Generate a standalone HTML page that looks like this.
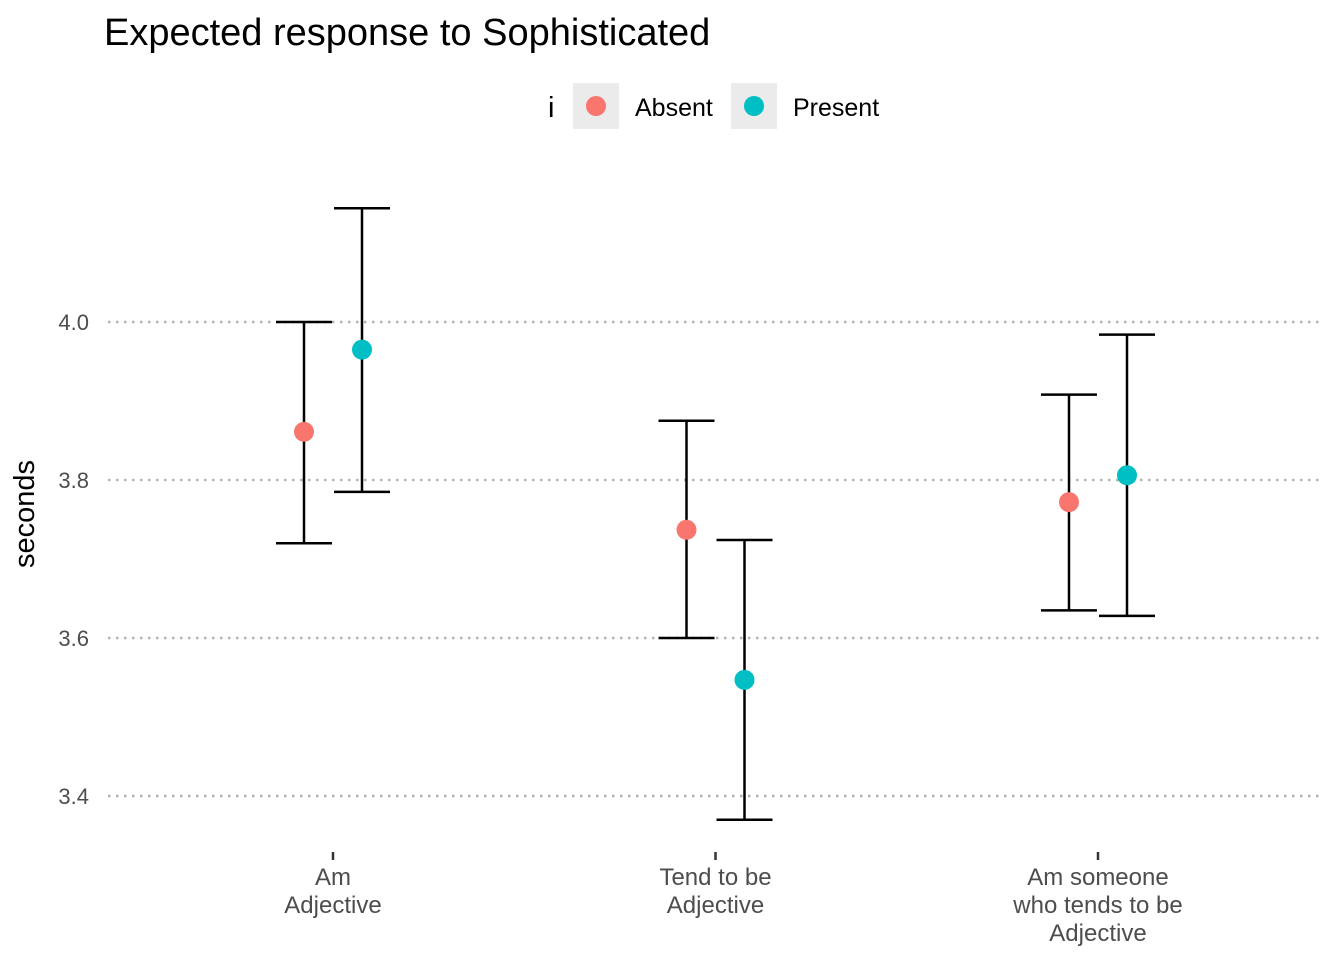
<!DOCTYPE html>
<html><head><meta charset="utf-8"><style>
body{margin:0;background:#fff;}
svg{display:block;font-family:"Liberation Sans",Arial,sans-serif;}
</style></head><body>
<svg id="chart" width="1344" height="960">
<text x="104" y="45" font-size="38" fill="#000">Expected response to Sophisticated</text>
<g>
<text x="548" y="117" font-size="29">i</text>
<rect x="573" y="83" width="46" height="46" fill="#ebebeb"/>
<circle cx="596" cy="106" r="10" fill="#F8766D"/>
<text x="635" y="116" font-size="25">Absent</text>
<rect x="731" y="83" width="46" height="46" fill="#ebebeb"/>
<circle cx="754" cy="106" r="10" fill="#00BFC4"/>
<text x="793" y="116" font-size="25">Present</text>
</g>
<text transform="translate(34,514) rotate(-90)" text-anchor="middle" font-size="29">seconds</text>
<g id="plot"></g>
</svg>
<script>
const categories=[["Am","Adjective"],["Tend to be","Adjective"],["Am someone","who tends to be","Adjective"]];
const absentMean=[3.861,3.737,3.772];
const absentLow=[3.720,3.600,3.635];
const absentHigh=[4.000,3.875,3.908];
const presentMean=[3.965,3.547,3.806];
const presentLow=[3.785,3.370,3.628];
const presentHigh=[4.144,3.724,3.984];
const yTicks=[3.4,3.6,3.8,4.0];
const yTickLabels=["3.4","3.6","3.8","4.0"];

const NS="http://www.w3.org/2000/svg";
const g=document.getElementById('plot');
function y(v){return 322+(4.0-v)*790;}
function x(i){return 333+i*382.5;}
function mk(t,a){const e=document.createElementNS(NS,t);for(const k in a)e.setAttribute(k,a[k]);g.appendChild(e);return e;}
yTicks.forEach((t,i)=>{
  const l=mk('line',{x1:108,x2:1324,y1:y(t),y2:y(t),stroke:'#b3b3b3','stroke-width':2.5,'stroke-dasharray':'2.5,5.5'});
  
  
  const tx=mk('text',{x:89,y:y(t)+8,'text-anchor':'end','font-size':22,fill:'#4d4d4d'});
  tx.textContent=yTickLabels[i];
  
  
});
categories.forEach((c,i)=>{
  const tk=mk('line',{x1:x(i),x2:x(i),y1:852,y2:860,stroke:'#333','stroke-width':2.5});
  
  
  c.forEach((s,j)=>{
    const tx=mk('text',{x:x(i),y:885+j*28,'text-anchor':'middle','font-size':24,fill:'#4d4d4d'});
    tx.textContent=s;
    
    
  });
});
function series(mean,low,high,off,color,name){
  mean.forEach((m,i)=>{
    const cx=x(i)+off;
    const eb=mk('path',{d:`M${cx-28},${y(high[i])}H${cx+28}M${cx},${y(high[i])}V${y(low[i])}M${cx-28},${y(low[i])}H${cx+28}`,stroke:'#000','stroke-width':2.5,fill:'none'});
    
    
  });
  mean.forEach((m,i)=>{
    const p=mk('circle',{cx:x(i)+off,cy:y(m),r:10,fill:color});
    
    
  });
}
series(absentMean,absentLow,absentHigh,-29,'#F8766D','absent');
series(presentMean,presentLow,presentHigh,29,'#00BFC4','present');
</script>
</body></html>
